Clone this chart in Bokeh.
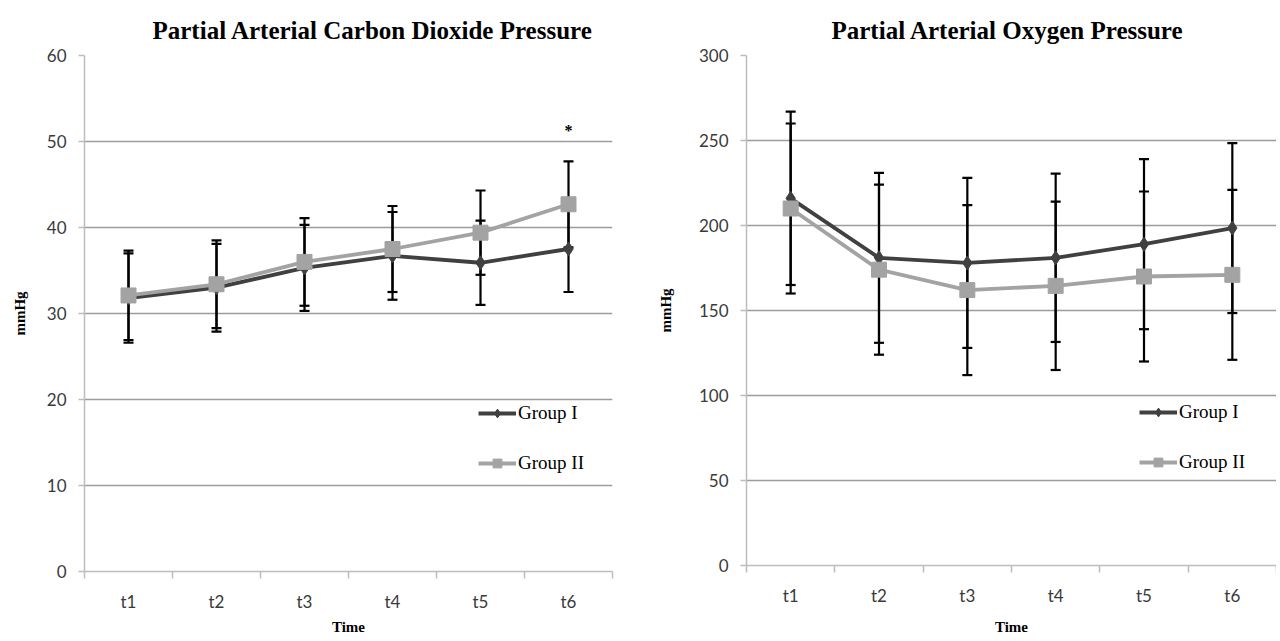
from bokeh.plotting import figure
from bokeh.models import Range1d, FixedTicker, Whisker, ColumnDataSource, TeeHead, Legend, LegendItem
from bokeh.layouts import row
from bokeh.embed import file_html
from bokeh.resources import INLINE
from bokeh.core.properties import value

# ---- data ----
times = ["t1", "t2", "t3", "t4", "t5", "t6"]
group_names = ["Group I", "Group II"]

co2_title = "Partial Arterial Carbon Dioxide Pressure"
co2_g1_mean = [31.8, 33.0, 35.3, 36.7, 35.9, 37.5]
co2_g1_sd = [5.2, 5.1, 5.0, 5.1, 4.9, 5.0]
co2_g2_mean = [32.1, 33.4, 36.0, 37.5, 39.4, 42.7]
co2_g2_sd = [5.2, 5.1, 5.1, 5.0, 4.9, 5.0]
co2_sig = ["", "", "", "", "", "*"]
co2_yticks = [0, 10, 20, 30, 40, 50, 60]

o2_title = "Partial Arterial Oxygen Pressure"
o2_g1_mean = [216, 181, 178, 181, 189, 198.5]
o2_g1_sd = [51, 50, 50, 49.5, 50, 50]
o2_g2_mean = [210, 174, 162, 164.5, 170, 171]
o2_g2_sd = [50, 50, 50, 49.5, 50, 50]
o2_sig = ["", "", "", "", "", ""]
o2_yticks = [0, 50, 100, 150, 200, 250, 300]

# ---- styles ----
C1 = "#404040"
C2 = "#a3a3a3"
GRID = "#9c9c9c"
AXIS = "#bdbdbd"
TICKTXT = "#3a3a3a"
SERIF = "Liberation Serif"
SANS = "Lato"


def make_chart(title, g1m, g1s, g2m, g2s, sig, yticks, frame_w, frame_h,
               b_left, b_right, b_top, b_bottom, title_offset, legend_xy,
               ylabel_standoff, xlabel_standoff):
    n = len(times)
    xs = [i + 0.5 for i in range(n)]
    p = figure(frame_width=frame_w, frame_height=frame_h, x_range=Range1d(0, n),
               y_range=Range1d(yticks[0], yticks[-1]),
               output_backend="svg", toolbar_location=None,
               min_border_left=b_left, min_border_right=b_right,
               min_border_top=b_top, min_border_bottom=b_bottom)
    p.outline_line_color = None
    p.background_fill_color = "white"
    p.border_fill_color = "white"

    p.title.text = title
    p.title.align = "left"
    p.title.offset = title_offset
    p.title.text_font = SERIF
    p.title.text_font_style = "bold"
    p.title.text_font_size = "25px"
    p.title.text_color = "black"
    p.title.standoff = 24

    # x axis: labels at category centres, tick marks between categories
    xa = p.xaxis[0]
    xa.ticker = FixedTicker(ticks=xs, minor_ticks=list(range(n + 1)))
    xa.major_label_overrides = {x: t for x, t in zip(xs, times)}
    xa.major_tick_line_color = None
    xa.minor_tick_line_color = AXIS
    xa.minor_tick_line_width = 1.5
    xa.minor_tick_in = 0
    xa.minor_tick_out = 7
    xa.axis_line_color = AXIS
    xa.axis_line_width = 1.5
    xa.major_label_text_font = SANS
    xa.major_label_text_font_size = "17px"
    xa.major_label_text_color = TICKTXT
    xa.major_label_standoff = 12
    xa.axis_label = "Time"
    xa.axis_label_text_font = SERIF
    xa.axis_label_text_font_style = "bold"
    xa.axis_label_text_font_size = "15px"
    xa.axis_label_text_color = "black"
    xa.axis_label_standoff = xlabel_standoff

    ya = p.yaxis[0]
    ya.ticker = FixedTicker(ticks=yticks)
    ya.minor_tick_line_color = None
    ya.major_tick_in = 0
    ya.major_tick_out = 6
    ya.major_tick_line_color = AXIS
    ya.major_tick_line_width = 1.5
    ya.axis_line_color = AXIS
    ya.axis_line_width = 1.5
    ya.major_label_text_font = SANS
    ya.major_label_text_font_size = "17px"
    ya.major_label_text_color = TICKTXT
    ya.major_label_standoff = 12
    ya.axis_label = "mmHg"
    ya.axis_label_text_font = SERIF
    ya.axis_label_text_font_style = "bold"
    ya.axis_label_text_font_size = "15px"
    ya.axis_label_text_color = "black"
    ya.axis_label_standoff = ylabel_standoff

    p.xgrid.grid_line_color = None
    p.ygrid.grid_line_color = GRID
    p.ygrid.grid_line_width = 1.3

    items = []
    for means, sds, color, marker, msize in [(g1m, g1s, C1, "diamond", 14),
                                             (g2m, g2s, C2, "square", 15)]:
        src = ColumnDataSource(dict(
            x=xs, y=means,
            lower=[m - s for m, s in zip(means, sds)],
            upper=[m + s for m, s in zip(means, sds)]))
        w = Whisker(base="x", lower="lower", upper="upper", source=src,
                    dimension="height", line_color="black", line_width=2.2,
                    upper_head=TeeHead(size=10, line_width=2.2, line_color="black"),
                    lower_head=TeeHead(size=10, line_width=2.2, line_color="black"))
        p.add_layout(w)
        ln = p.line("x", "y", source=src, line_color=color, line_width=3.8)
        sc = p.scatter("x", "y", source=src, marker=marker, size=msize,
                       fill_color=color, line_color=color)
        items.append((ln, sc))

    legend = Legend(items=[LegendItem(label=value(name), renderers=list(r))
                           for name, r in zip(group_names, items)],
                    location=legend_xy, orientation="vertical",
                    border_line_color=None, background_fill_alpha=0,
                    label_text_font=SERIF, label_text_font_size="19px",
                    label_text_color="black", glyph_width=38, glyph_height=22,
                    label_standoff=2, spacing=28, padding=0, margin=0)
    p.add_layout(legend)

    # significance marks above the highest whisker
    sx, sy, st = [], [], []
    for i, s in enumerate(sig):
        if s:
            top = max(g1m[i] + g1s[i], g2m[i] + g2s[i])
            sx.append(xs[i]); sy.append(top + (yticks[-1] - yticks[0]) * 0.06); st.append(s)
    if sx:
        p.text(x=sx, y=sy, text=st, text_align="center", text_baseline="middle",
               text_font=value(SERIF), text_font_style="bold", text_font_size="16px",
               text_color="black")
    return p


p1 = make_chart(co2_title, co2_g1_mean, co2_g1_sd, co2_g2_mean, co2_g2_sd, co2_sig,
                co2_yticks, frame_w=528, frame_h=516, b_left=84, b_right=22,
                b_top=54, b_bottom=62, title_offset=68, legend_xy=(394, 97),
                ylabel_standoff=16, xlabel_standoff=4)
p2 = make_chart(o2_title, o2_g1_mean, o2_g1_sd, o2_g2_mean, o2_g2_sd, o2_sig,
                o2_yticks, frame_w=530, frame_h=510, b_left=112, b_right=0,
                b_top=55, b_bottom=68, title_offset=85, legend_xy=(393, 92),
                ylabel_standoff=22, xlabel_standoff=10)

layout = row(p1, p2)
open("out.html", "w").write(file_html(layout, INLINE))
